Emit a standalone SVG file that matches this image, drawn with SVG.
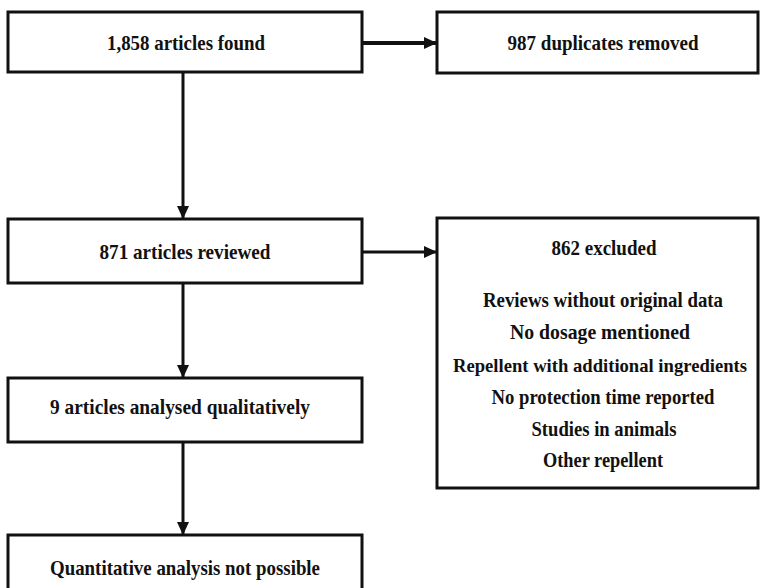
<svg xmlns="http://www.w3.org/2000/svg" width="760" height="588" viewBox="0 0 760 588">
<style>
.box{fill:#fff;stroke:#111;stroke-width:3}
.t{font-family:"Liberation Serif","Times New Roman",serif;font-weight:bold;font-size:21px;fill:#111;text-anchor:middle}
.c{stroke:#111;stroke-width:3;fill:none;marker-end:url(#ah)}
</style>
<defs>
<marker id="ah" markerUnits="userSpaceOnUse" markerWidth="13" markerHeight="12" refX="13" refY="6" orient="auto">
<path d="M0,0 L13,6 L0,12 z" fill="#111"/>
</marker>
</defs>
<rect width="760" height="588" fill="#fff"/>
<g id="connectors">
<line class="c" x1="362" y1="43" x2="437" y2="43" style="stroke-width:4"/>
<line class="c" x1="362" y1="252" x2="437" y2="252"/>
<line class="c" x1="183" y1="72" x2="183" y2="219"/>
<line class="c" x1="183" y1="283" x2="183" y2="378"/>
<line class="c" x1="183" y1="442" x2="183" y2="535"/>
</g>
<g id="n1"><rect class="box" x="8" y="12" width="354" height="60"/><text class="t" x="186" y="50" textLength="158" lengthAdjust="spacingAndGlyphs">1,858 articles found</text></g>
<g id="n2"><rect class="box" x="437" y="12" width="321" height="61"/><text class="t" x="603" y="50" textLength="191" lengthAdjust="spacingAndGlyphs">987 duplicates removed</text></g>
<g id="n3"><rect class="box" x="8" y="219" width="354" height="64"/><text class="t" x="185" y="259" textLength="171" lengthAdjust="spacingAndGlyphs">871 articles reviewed</text></g>
<g id="n4"><rect class="box" x="437" y="218" width="321" height="270"/>
<text class="t" x="604" y="255" textLength="105" lengthAdjust="spacingAndGlyphs">862 excluded</text>
<text class="t" x="603" y="307" textLength="240" lengthAdjust="spacingAndGlyphs">Reviews without original data</text>
<text class="t" x="600" y="339" textLength="180" lengthAdjust="spacingAndGlyphs">No dosage mentioned</text>
<text class="t" x="600" y="372" style="font-size:19px" textLength="294" lengthAdjust="spacingAndGlyphs">Repellent with additional ingredients</text>
<text class="t" x="603" y="404" textLength="223" lengthAdjust="spacingAndGlyphs">No protection time reported</text>
<text class="t" x="604" y="436" textLength="145" lengthAdjust="spacingAndGlyphs">Studies in animals</text>
<text class="t" x="603" y="467" textLength="120" lengthAdjust="spacingAndGlyphs">Other repellent</text>
</g>
<g id="n5"><rect class="box" x="8" y="378" width="354" height="64"/><text class="t" x="180" y="414" textLength="260" lengthAdjust="spacingAndGlyphs">9 articles analysed qualitatively</text></g>
<g id="n6"><rect class="box" x="8" y="535" width="354" height="80"/><text class="t" x="185" y="575" textLength="270" lengthAdjust="spacingAndGlyphs">Quantitative analysis not possible</text></g>
</svg>
